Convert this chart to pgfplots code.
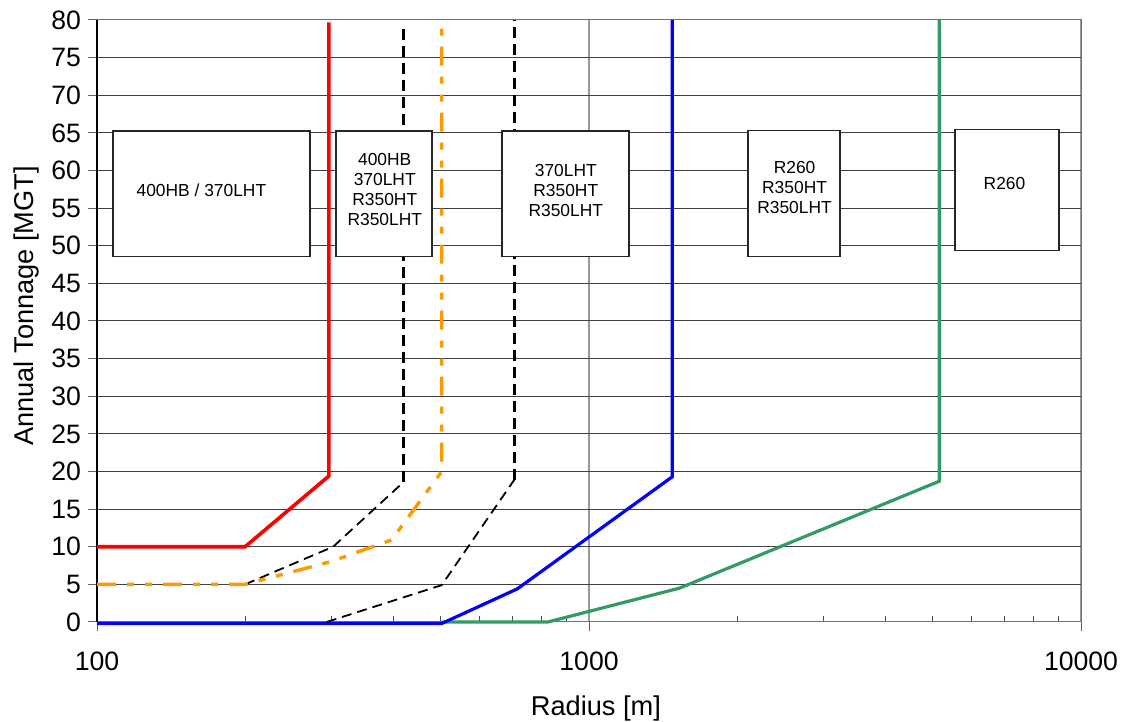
\documentclass[border=0pt]{standalone}
\usepackage{pgfplots}
\pgfplotsset{compat=1.18}
\usepackage{fontspec}
\setmainfont{Liberation Sans}
\definecolor{myorange}{HTML}{FF9900}
\definecolor{mygreen}{HTML}{339966}
\begin{document}
\begin{tikzpicture}
\begin{axis}[
  xmode=log, scale only axis, width=492pt, height=301pt,
  xmin=100, xmax=10000, ymin=0, ymax=80,
  xtick={100,1000,10000}, xticklabels={100,1000,10000},
  minor xtick={200,300,400,500,600,700,800,900,2000,3000,4000,5000,6000,7000,8000,9000},
  ytick={0,5,...,80},
  xtick pos=bottom, ytick pos=left,
  tick align=outside,
  major tick length=4.5pt, minor tick length=3pt,
  minor tick style={yshift=3pt, black!70, line width=0.5pt},
  major tick style={black!60, line width=0.5pt},
  ymajorgrids, xmajorgrids,
  major y grid style={black!75, line width=0.5pt},
  major x grid style={black!40, line width=0.6pt},
  axis line style={black!55, line width=0.5pt},
  ticklabel style={font=\fontsize{13.3}{15}\selectfont},
  xticklabel style={yshift=-7pt},
  /pgf/number format/assume math mode=true,
  xlabel={Radius [m]}, ylabel={Annual Tonnage [MGT]},
  label style={font=\fontsize{13.6}{15}\selectfont},
  xlabel style={at={(axis description cs:0.507,-0.1561)}, anchor=base},
  ylabel style={at={(axis description cs:-0.065,0.525)}, anchor=base},
  clip=false,
]
\draw[black, line width=0.6pt] (axis cs:100,0) -- (axis cs:100,80);
\addplot[mygreen, line width=1.6pt] coordinates {(502,0) (825,0) (1528,4.5) (5150,18.7) (5150,80)};
\addplot[blue, line width=1.6pt] coordinates {(100,-0.2) (502,-0.2) (715,4.4) (1477,19.3) (1477,80)};
\addplot[black, line width=0.9pt, dash pattern=on 5pt off 3pt] coordinates {(200,5) (302,10) (420,18.6)};
\addplot[black, line width=1.6pt, dash pattern=on 5.5pt off 3pt] coordinates {(420,18.6) (420,79)};
\addplot[black, line width=0.9pt, dash pattern=on 5pt off 3pt] coordinates {(293,0) (502,4.9) (705,18.9)};
\addplot[black, line width=1.6pt, dash pattern=on 5.5pt off 3pt] coordinates {(705,18.9) (705,80)};
\addplot[myorange, line width=1.7pt, dash pattern=on 9.5pt off 5.5pt on 3.5pt off 5.5pt on 3.5pt off 5.5pt] coordinates {(100,5) (200,5) (298,8) (397,10.9) (502,20) (502,80)};
\addplot[red, line width=1.8pt] coordinates {(100,10) (200,10) (296,19.4) (296,79.7)};
\draw[black!85, line width=0.6pt, fill=white] (axis cs:107.8,48.6) rectangle (axis cs:271,65.25);
\draw[black!85, line width=0.6pt, fill=white] (axis cs:306,48.6) rectangle (axis cs:479.6,65.25);
\draw[black!85, line width=0.6pt, fill=white] (axis cs:665.7,48.6) rectangle (axis cs:1206,65.25);
\draw[black!85, line width=0.6pt, fill=white] (axis cs:2105,48.6) rectangle (axis cs:3237,65.3);
\draw[black!85, line width=0.6pt, fill=white] (axis cs:5544,49.4) rectangle (axis cs:9022,65.4);
\node[align=center, font=\fontsize{8.7}{10}\selectfont] at (axis cs:163,57.4) {400HB / 370LHT};
\node[align=center, font=\fontsize{8.7}{10}\selectfont] at (axis cs:384.5,57.5) {400HB\\370LHT\\R350HT\\R350LHT};
\node[align=center, font=\fontsize{8.7}{10}\selectfont] at (axis cs:897,57.3) {370LHT\\R350HT\\R350LHT};
\node[align=center, font=\fontsize{8.7}{10}\selectfont] at (axis cs:2617,57.7) {R260\\R350HT\\R350LHT};
\node[align=center, font=\fontsize{8.7}{10}\selectfont] at (axis cs:6991,58.3) {R260};
\end{axis}
\pgfresetboundingbox
\path[use as bounding box] ([shift={(-48.5pt,-50pt)}]current axis.south west) rectangle ([shift={(24.5pt,10pt)}]current axis.north east);
\end{tikzpicture}
\end{document}
